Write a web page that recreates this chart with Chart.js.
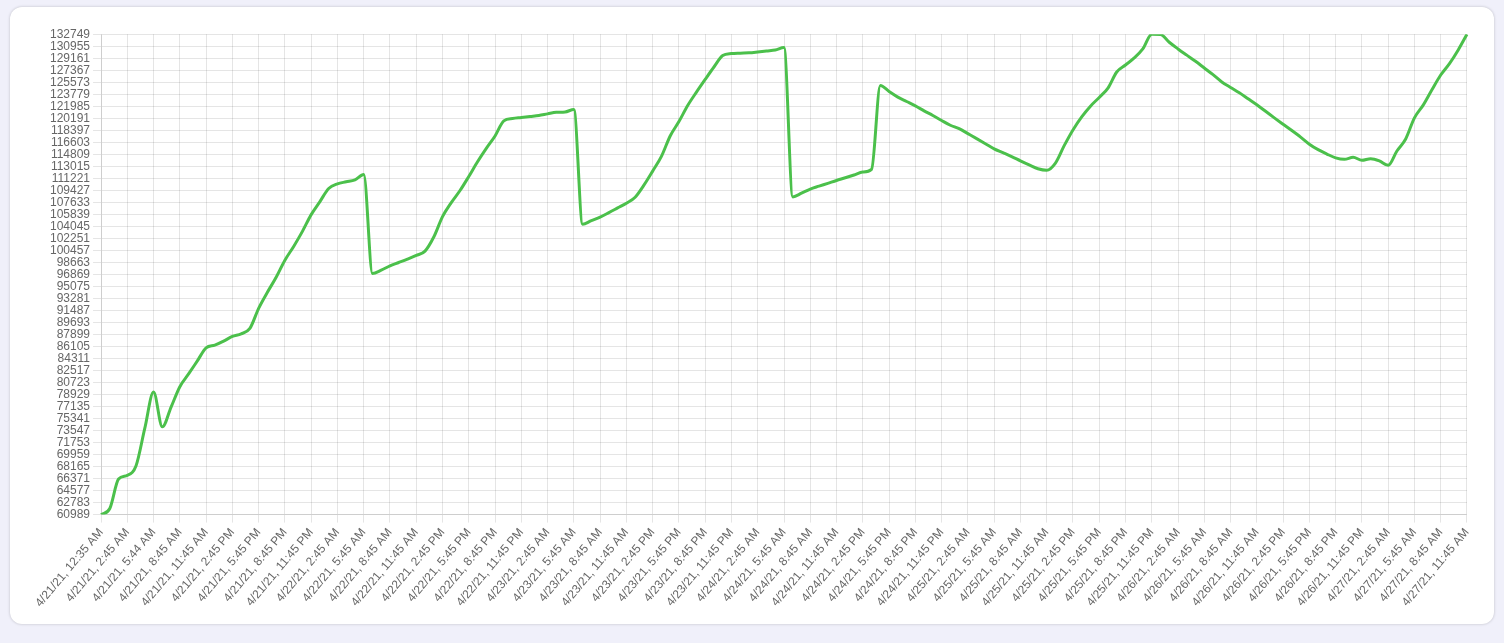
<!DOCTYPE html>
<html>
<head>
<meta charset="utf-8">
<script src="https://cdn.jsdelivr.net/npm/chart.js@4"></script>
<style>
  html, body { margin: 0; padding: 0; background: #f0f0fa; width: 1504px; height: 643px; overflow: hidden; }
  #card { position: absolute; left: 10px; top: 7px; width: 1484px; height: 617px; background: #fff;
          border-radius: 12px; box-shadow: 0 0 3px rgba(0,0,0,0.22); }
  #wrap { position: absolute; left: 25px; top: 17px; width: 1446px; height: 589px; }
</style>
</head>
<body>
<div id="card"><div id="wrap"><canvas id="c"></canvas></div></div>
<script>
// Visible tick labels (one every third data point)
const tickLabels = [
  "4/21/21, 12:35 AM","4/21/21, 2:45 AM","4/21/21, 5:44 AM","4/21/21, 8:45 AM","4/21/21, 11:45 AM",
  "4/21/21, 2:45 PM","4/21/21, 5:45 PM","4/21/21, 8:45 PM","4/21/21, 11:45 PM",
  "4/22/21, 2:45 AM","4/22/21, 5:45 AM","4/22/21, 8:45 AM","4/22/21, 11:45 AM",
  "4/22/21, 2:45 PM","4/22/21, 5:45 PM","4/22/21, 8:45 PM","4/22/21, 11:45 PM",
  "4/23/21, 2:45 AM","4/23/21, 5:45 AM","4/23/21, 8:45 AM","4/23/21, 11:45 AM",
  "4/23/21, 2:45 PM","4/23/21, 5:45 PM","4/23/21, 8:45 PM","4/23/21, 11:45 PM",
  "4/24/21, 2:45 AM","4/24/21, 5:45 AM","4/24/21, 8:45 AM","4/24/21, 11:45 AM",
  "4/24/21, 2:45 PM","4/24/21, 5:45 PM","4/24/21, 8:45 PM","4/24/21, 11:45 PM",
  "4/25/21, 2:45 AM","4/25/21, 5:45 AM","4/25/21, 8:45 AM","4/25/21, 11:45 AM",
  "4/25/21, 2:45 PM","4/25/21, 5:45 PM","4/25/21, 8:45 PM","4/25/21, 11:45 PM",
  "4/26/21, 2:45 AM","4/26/21, 5:45 AM","4/26/21, 8:45 AM","4/26/21, 11:45 AM",
  "4/26/21, 2:45 PM","4/26/21, 5:45 PM","4/26/21, 8:45 PM","4/26/21, 11:45 PM",
  "4/27/21, 2:45 AM","4/27/21, 5:45 AM","4/27/21, 8:45 AM","4/27/21, 11:45 AM"
];

// Series values (three points per labelled interval)
const values = [
  60989, 61900, 66300, 66850, 68300, 73900, 79300, 74100, 77050, 80100,
  82000, 83950, 85900, 86300, 86900, 87600, 88000, 88800, 91800, 94200,
  96450, 99000, 101050, 103300, 105800, 107750, 109700, 110400, 110700, 111000,
  111800, 97000, 97500, 98150, 98650, 99160, 99700, 100350, 102450, 105500,
  107600, 109400, 111500, 113700, 115700, 117550, 119800, 120150, 120300, 120450,
  120600, 120850, 121080, 121130, 121500, 104350, 104900, 105430, 106100, 106800,
  107500, 108400, 110200, 112300, 114500, 117550, 119700, 122100, 124100, 126000,
  127850, 129550, 129850, 129920, 129970, 130100, 130250, 130380, 130760, 108450,
  109000, 109620, 110050, 110470, 110900, 111300, 111720, 112150, 112550, 125100,
  124200, 123350, 122700, 122050, 121300, 120600, 119850, 119150, 118650, 117900,
  117150, 116390, 115620, 115050, 114470, 113830, 113220, 112650, 112420, 113500,
  116100, 118450, 120400, 122000, 123300, 124700, 127100, 128150, 129200, 130600,
  132749, 132700, 131550, 130550, 129620, 128700, 127700, 126700, 125620, 124800,
  124000, 123100, 122200, 121230, 120250, 119300, 118360, 117380, 116320, 115500,
  114850, 114280, 114060, 114360, 113920, 114160, 113830, 113160, 115300, 117100,
  120250, 122150, 124450, 126650, 128350, 130400, 132749
];

const yMin = 60989, yMax = 132749, yStep = 1794;
const pointsPerLabel = 3;

const categories = values.map((v, i) => i % pointsPerLabel === 0 ? tickLabels[i / pointsPerLabel] : '');
const gridCol = 'rgba(0,0,0,0.1)';

new Chart(document.getElementById('c'), {
  type: 'line',
  data: {
    labels: categories,
    datasets: [{
      data: values,
      borderColor: 'rgb(75,192,75)',
      backgroundColor: 'rgb(75,192,75)',
      borderWidth: 3,
      pointRadius: 0,
      fill: false,
      cubicInterpolationMode: 'monotone'
    }]
  },
  options: {
    responsive: true,
    maintainAspectRatio: false,
    animation: false,
    plugins: { legend: { display: false }, tooltip: { enabled: false } },
    scales: {
      x: {
        grid: {
          color: (c) => (c.index % pointsPerLabel === 0 ? gridCol : 'rgba(0,0,0,0)')
        },
        ticks: {
          autoSkip: false,
          minRotation: 50,
          maxRotation: 50,
          color: '#666',
          font: { size: 12 },
          callback: function (val, idx) { return idx % pointsPerLabel === 0 ? this.getLabelForValue(val) : ''; }
        }
      },
      y: {
        min: yMin,
        max: yMax,
        grid: { color: gridCol },
        ticks: {
          stepSize: yStep, autoSkip: false, color: '#666', font: { size: 12 },
          callback: (v) => String(Math.round(v))
        }
      }
    }
  }
});
</script>
</body>
</html>
